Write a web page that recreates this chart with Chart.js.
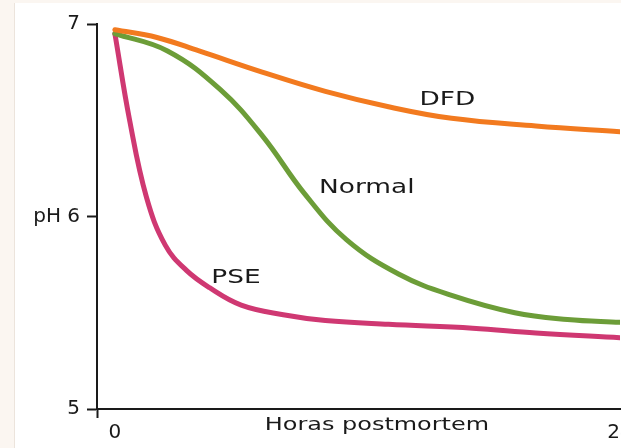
<!DOCTYPE html>
<html>
<head>
<meta charset="utf-8">
<script src="https://cdn.jsdelivr.net/npm/chart.js@4"></script>
<style>
    html, body { margin: 0; padding: 0; overflow: hidden; background: #fbf6f1; }
    #frame { position: absolute; left: 14px; top: 3px; width: 607px; height: 445px; background: #fff; border-left: 1px solid #ece4dc; }
    #wrap { position: absolute; left: 0; top: 0; width: 660px; height: 448px; }
</style>
</head>
<body>
<div id="frame"></div>
<div id="wrap"><canvas id="phChart"></canvas></div>
<script>
// 데이터
const dfdHours = [0, 2, 4, 7, 10, 13, 16, 20, 24];
const dfdPH = [6.97, 6.93, 6.86, 6.75, 6.65, 6.57, 6.51, 6.47, 6.44];

const normalHours = [0, 2.5, 5, 7, 9, 11, 13.5, 16, 19, 21.5, 24];
const normalPH = [6.95, 6.86, 6.66, 6.42, 6.12, 5.88, 5.70, 5.59, 5.50, 5.465, 5.45];

const pseHours = [0, 0.7, 1.5, 2.4, 3.4, 4.5, 6, 8, 10, 13, 17, 20, 24];
const psePH = [6.95, 6.50, 6.10, 5.85, 5.72, 5.63, 5.54, 5.49, 5.46, 5.44, 5.42, 5.395, 5.37];

const xTicks = [-0.85, 0, 24];
const xTickLabels = ['', '0', '24'];
const yTicks = [5, 6, 7];
const yTickLabels = ['5', 'pH 6', '7'];

// 곡선 라벨 (데이터 좌표)
const curveLabels = [
    { text: 'DFD', x: 15.8, y: 6.605 },
    { text: 'Normal', x: 11.97, y: 6.15 },
    { text: 'PSE', x: 5.75, y: 5.68 }
];
const xTitle = 'Horas postmortem';

function toPoints(xs, ys) {
    return xs.map((x, i) => ({ x: x, y: ys[i] }));
}

// 라벨 그리기 플러그인 (가로로 늘린 글꼴)
const labelPlugin = {
    id: 'curveLabels',
    afterDatasetsDraw(chart) {
        const ctx = chart.ctx;
        const xs = chart.scales.x;
        const ys = chart.scales.y;
        ctx.save();
        ctx.fillStyle = '#1a1a1a';
        ctx.textAlign = 'center';
        ctx.textBaseline = 'middle';
        ctx.font = '20px "DejaVu Sans"';
        curveLabels.forEach(l => {
            const px = xs.getPixelForValue(l.x);
            const py = ys.getPixelForValue(l.y);
            ctx.save();
            ctx.translate(px, py);
            ctx.scale(1.32, 1);
            ctx.fillText(l.text, 0, 0);
            ctx.restore();
        });
        // x축 제목
        ctx.font = '18px "DejaVu Sans"';
        ctx.save();
        ctx.translate(xs.getPixelForValue(12.45), 425);
        ctx.scale(1.33, 1);
        ctx.fillText(xTitle, 0, 0);
        ctx.restore();
        ctx.restore();
    }
};

const ctx = document.getElementById('phChart').getContext('2d');
window.chart = new Chart(ctx, {
    type: 'line',
    data: {
        datasets: [
            {
                label: 'DFD',
                data: toPoints(dfdHours, dfdPH),
                borderColor: '#f27a1f',
                borderWidth: 5
            },
            {
                label: 'Normal',
                data: toPoints(normalHours, normalPH),
                borderColor: '#6c9d38',
                borderWidth: 5
            },
            {
                label: 'PSE',
                data: toPoints(pseHours, psePH),
                borderColor: '#cf3872',
                borderWidth: 5
            }
        ]
    },
    options: {
        responsive: true,
        maintainAspectRatio: false,
        animation: false,
        elements: {
            point: { radius: 0 },
            line: { tension: 0.4, fill: false, borderCapStyle: 'round' }
        },
        layout: {
            padding: { left: 0, top: 24, right: 40, bottom: 0 }
        },
        plugins: {
            legend: { display: false },
            tooltip: { enabled: false }
        },
        scales: {
            x: {
                type: 'linear',
                min: -0.85,
                max: 24,
                afterBuildTicks: scale => { scale.ticks = xTicks.map(v => ({ value: v })); },
                afterFit: scale => { scale.height = 39; },
                ticks: {
                    autoSkip: false,
                    maxRotation: 0,
                    padding: 3,
                    color: '#1a1a1a',
                    font: { family: 'DejaVu Sans', size: 20 },
                    callback: (v) => xTickLabels[xTicks.indexOf(v)]
                },
                grid: {
                    drawOnChartArea: false,
                    tickLength: 9,
                    tickWidth: 2,
                    tickColor: c => (c.tick && c.tick.value === xTicks[0]) ? '#1a1a1a' : 'rgba(0,0,0,0)'
                },
                border: { display: true, color: '#1a1a1a', width: 2 }
            },
            y: {
                min: 5,
                max: 7,
                afterBuildTicks: scale => { scale.ticks = yTicks.map(v => ({ value: v })); },
                afterFit: scale => { scale.width = 97; },
                ticks: {
                    padding: 7,
                    color: '#1a1a1a',
                    font: { family: 'DejaVu Sans', size: 20 },
                    callback: (v) => yTickLabels[yTicks.indexOf(v)]
                },
                grid: {
                    drawOnChartArea: false,
                    tickLength: 10,
                    tickWidth: 2,
                    tickColor: '#1a1a1a'
                },
                border: { display: true, color: '#1a1a1a', width: 2 }
            }
        }
    },
    plugins: [labelPlugin]
});
</script>
</body>
</html>
